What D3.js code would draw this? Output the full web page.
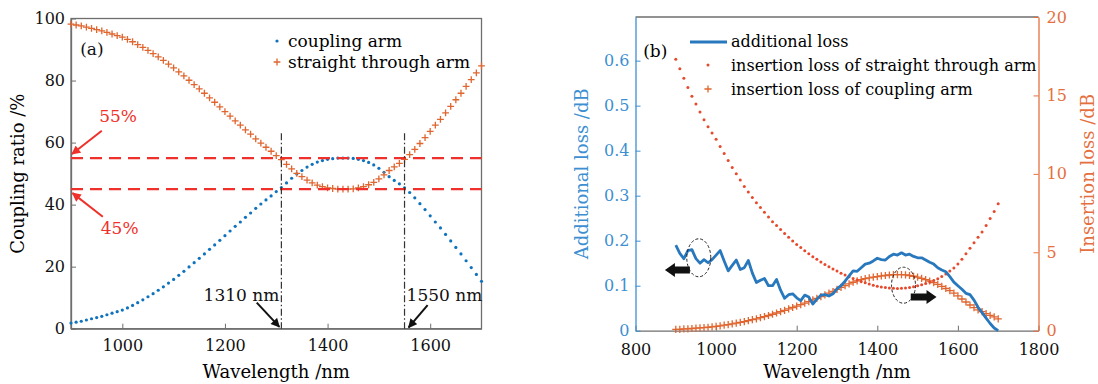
<!DOCTYPE html>
<html>
<head>
<meta charset="utf-8">
<script src="https://cdn.jsdelivr.net/npm/d3@7/dist/d3.min.js"></script>
<style>
  body { margin: 0; background: #fff; }
  text { font-family: "DejaVu Serif", serif; }
</style>
</head>
<body>
<svg id="chart" width="1098" height="384"></svg>
<script>
// wavelength grid of the simulation, nm
const wavelength = d3.range(900, 1701, 10);

// (a) coupling ratio, %
const couplingArm = [
  1.8, 2.1, 2.4, 2.8, 3.2, 3.6, 4.0, 4.5, 5.0, 5.5,
  6.0, 6.7, 7.5, 8.4, 9.3, 10.3, 11.3, 12.4, 13.5, 14.7,
  15.9, 17.2, 18.5, 19.9, 21.3, 22.7, 24.1, 25.6, 27.0, 28.5,
  30.0, 31.5, 33.0, 34.4, 35.9, 37.3, 38.8, 40.2, 41.5, 42.8,
  44.2, 45.5, 47.0, 48.5, 49.9, 51.0, 52.1, 53.0, 53.7, 54.2,
  54.6, 54.8, 55.0, 55.0, 55.0, 54.9, 54.6, 54.2, 53.6, 52.8,
  51.7, 50.4, 49.0, 47.8, 46.7, 45.4, 43.9, 42.2, 40.3, 38.4,
  36.4, 34.4, 32.5, 30.4, 28.3, 26.2, 24.1, 21.9, 19.7, 17.5,
  15.3];
const straightArm = [
  98.2, 97.9, 97.6, 97.2, 96.8, 96.4, 96.0, 95.5, 95.0, 94.5,
  94.0, 93.3, 92.5, 91.6, 90.7, 89.7, 88.7, 87.6, 86.5, 85.3,
  84.1, 82.8, 81.5, 80.1, 78.7, 77.3, 75.9, 74.4, 73.0, 71.5,
  70.0, 68.5, 67.0, 65.6, 64.1, 62.7, 61.2, 59.8, 58.5, 57.2,
  55.8, 54.5, 53.0, 51.5, 50.1, 49.0, 47.9, 47.0, 46.3, 45.8,
  45.4, 45.2, 45.0, 45.0, 45.0, 45.1, 45.4, 45.8, 46.4, 47.2,
  48.3, 49.6, 51.0, 52.2, 53.3, 54.6, 56.1, 57.8, 59.7, 61.6,
  63.6, 65.6, 67.5, 69.6, 71.7, 73.8, 75.9, 78.1, 80.3, 82.5,
  84.7];

// (b) losses, dB
const additionalLoss = [
  0.19, 0.172, 0.16, 0.178, 0.18, 0.16, 0.15, 0.158, 0.151, 0.158,
  0.168, 0.178, 0.155, 0.133, 0.145, 0.157, 0.136, 0.14, 0.156, 0.128,
  0.107, 0.112, 0.116, 0.1, 0.1, 0.114, 0.09, 0.072, 0.08, 0.082,
  0.073, 0.067, 0.079, 0.075, 0.059, 0.07, 0.079, 0.08, 0.077, 0.082,
  0.093, 0.1, 0.11, 0.122, 0.133, 0.132, 0.14, 0.148, 0.15, 0.155,
  0.161, 0.158, 0.157, 0.165, 0.17, 0.168, 0.173, 0.168, 0.17, 0.165,
  0.162, 0.162, 0.157, 0.152, 0.148, 0.14, 0.135, 0.131, 0.12, 0.108,
  0.1, 0.092, 0.083, 0.08, 0.068, 0.052, 0.04, 0.028, 0.016, 0.006,
  0.0];
const ilStraight = [
  17.3, 16.7, 16.1, 15.5, 14.95, 14.45, 13.95, 13.45, 13.0, 12.6,
  12.2, 11.75, 11.3, 10.85, 10.4, 10.0, 9.6, 9.2, 8.85, 8.5,
  8.15, 7.85, 7.55, 7.25, 6.95, 6.7, 6.45, 6.2, 5.95, 5.72,
  5.5, 5.3, 5.1, 4.9, 4.72, 4.55, 4.38, 4.22, 4.07, 3.93,
  3.8, 3.67, 3.55, 3.44, 3.33, 3.23, 3.14, 3.05, 2.97, 2.9,
  2.84, 2.79, 2.75, 2.72, 2.70, 2.69, 2.70, 2.72, 2.75, 2.80,
  2.86, 2.93, 3.01, 3.10, 3.2, 3.32, 3.46, 3.62, 3.8, 4.0,
  4.25, 4.55, 4.9, 5.25, 5.6, 5.95, 6.3, 6.7, 7.15, 7.6,
  8.1];
const ilCoupling = [
  0.08, 0.09, 0.11, 0.12, 0.14, 0.16, 0.18, 0.20, 0.22, 0.25,
  0.28, 0.31, 0.35, 0.39, 0.43, 0.48, 0.53, 0.58, 0.64, 0.70,
  0.76, 0.83, 0.90, 0.97, 1.05, 1.13, 1.21, 1.30, 1.39, 1.48,
  1.57, 1.66, 1.76, 1.86, 1.96, 2.06, 2.17, 2.28, 2.39, 2.50,
  2.63, 2.76, 2.88, 2.99, 3.09, 3.18, 3.26, 3.32, 3.37, 3.41,
  3.45, 3.49, 3.52, 3.55, 3.57, 3.58, 3.58, 3.56, 3.52, 3.47,
  3.41, 3.34, 3.26, 3.17, 3.07, 2.95, 2.82, 2.69, 2.55, 2.39,
  2.22, 2.02, 1.83, 1.64, 1.47, 1.33, 1.21, 1.09, 0.98, 0.88,
  0.76];

const xTicksA = [1000, 1200, 1400, 1600];
const yTicksA = [0, 20, 40, 60, 80, 100];
const xTicksB = [800, 1000, 1200, 1400, 1600, 1800];
const yTicksBL = [0, 0.1, 0.2, 0.3, 0.4, 0.5, 0.6];
const yTicksBR = [0, 5, 10, 15, 20];
const ratioLevels = [55, 45];
const markWavelengths = [1310, 1550];

const serif = '"DejaVu Serif", serif';
const blue = '#0f72bd';
const orange = '#e0652f';
const redDot = '#e6492c';
const axisGray = '#6e6e6e';
const svg = d3.select('#chart');

const defs = svg.append('defs');
const addHead = (id, color) => defs.append('marker')
  .attr('id', id)
  .attr('viewBox', '0 0 10 10')
  .attr('refX', 9).attr('refY', 5)
  .attr('markerWidth', 10).attr('markerHeight', 9)
  .attr('markerUnits', 'userSpaceOnUse')
  .attr('orient', 'auto')
  .append('path')
  .attr('d', 'M0,0L10,5L0,10Z')
  .attr('fill', color);
addHead('headRed', '#f0302a');
addHead('headBlack', '#111');

const styleAxis = (g, lineColor, textColor) => {
  g.attr('font-family', serif).attr('font-size', 16);
  g.select('.domain').attr('stroke', lineColor).attr('stroke-width', 1.3);
  g.selectAll('.tick line').attr('stroke', lineColor).attr('stroke-width', 1);
  g.selectAll('.tick text').attr('fill', textColor);
};
const plusPath = (s) => `M${-s},0H${s}M0,${-s}V${s}`;
const intFmt = d3.format('d');

// ================= panel (a) =================
const xA = d3.scaleLinear().domain([900, 1700]).range([71, 481.5]);
const yA = d3.scaleLinear().domain([0, 100]).range([328.7, 18.5]);
const gA = svg.append('g');

gA.append('rect')
  .attr('x', xA.range()[0]).attr('y', yA.range()[1])
  .attr('width', xA.range()[1] - xA.range()[0])
  .attr('height', yA.range()[0] - yA.range()[1])
  .attr('fill', 'none').attr('stroke', axisGray).attr('stroke-width', 1.3);

gA.append('g')
  .attr('transform', `translate(0,${yA(0)})`)
  .call(d3.axisBottom(xA).tickValues(xTicksA).tickFormat(intFmt)
    .tickSize(-5).tickSizeOuter(0).tickPadding(11))
  .call((g) => styleAxis(g, axisGray, '#111'));
gA.append('g')
  .attr('transform', `translate(${xA(900)},0)`)
  .call(d3.axisLeft(yA).tickValues(yTicksA).tickFormat(intFmt)
    .tickSize(-5).tickSizeOuter(0).tickPadding(6))
  .call((g) => styleAxis(g, axisGray, '#111'));

const ptsA = wavelength.map((w, i) => ({ w, c: couplingArm[i], s: straightArm[i] }));

gA.append('g').selectAll('circle')
  .data(ptsA)
  .join('circle')
  .attr('cx', (d) => xA(d.w))
  .attr('cy', (d) => yA(d.c))
  .attr('r', 1.6)
  .attr('fill', blue);

gA.append('g').selectAll('path')
  .data(ptsA)
  .join('path')
  .attr('transform', (d) => `translate(${xA(d.w)},${yA(d.s)})`)
  .attr('d', plusPath(3.4))
  .attr('stroke', orange)
  .attr('stroke-width', 1.3);

// 55 % / 45 % reference lines
gA.append('g').selectAll('line')
  .data(ratioLevels)
  .join('line')
  .attr('x1', xA(900)).attr('x2', xA(1700))
  .attr('y1', (d) => yA(d)).attr('y2', (d) => yA(d))
  .attr('stroke', '#f0302a')
  .attr('stroke-width', 2.4)
  .attr('stroke-dasharray', '12,7');

// 1310 / 1550 nm markers
gA.append('g').selectAll('line')
  .data(markWavelengths)
  .join('line')
  .attr('x1', (d) => xA(d)).attr('x2', (d) => xA(d))
  .attr('y1', yA(63)).attr('y2', yA(0))
  .attr('stroke', '#333')
  .attr('stroke-width', 1.2)
  .attr('stroke-dasharray', '7,2.5,1.5,2.5');

const arrowA = (w0, v0, w1, v1, color, head) => gA.append('line')
  .attr('x1', xA(w0)).attr('y1', yA(v0))
  .attr('x2', xA(w1)).attr('y2', yA(v1))
  .attr('stroke', color).attr('stroke-width', 2)
  .attr('marker-end', `url(#${head})`);

arrowA(960, 63.8, 902, 56.3, '#f0302a', 'headRed');
arrowA(962, 36.1, 903, 43.7, '#f0302a', 'headRed');
arrowA(1262, 8.4, 1306, 0.6, '#111', 'headBlack');
arrowA(1595, 7.6, 1558, 0.4, '#111', 'headBlack');

const textA = (w, v, str, color, anchor) => gA.append('text')
  .attr('x', xA(w)).attr('y', yA(v))
  .attr('dy', '0.35em')
  .attr('text-anchor', anchor || 'start')
  .attr('fill', color)
  .style('font-size', '17px')
  .text(str);

textA(955, 68.6, '55%', '#f0302a');
textA(958, 32.5, '45%', '#f0302a');
textA(1306, 11, '1310 nm', '#111', 'end');
textA(1554, 11, '1550 nm', '#111');
textA(918, 90, '(a)', '#111');

// legend (a)
const legA = gA.append('g');
legA.append('circle').attr('cx', 277).attr('cy', 41).attr('r', 1.6).attr('fill', blue);
legA.append('path').attr('transform', 'translate(277,62)').attr('d', plusPath(3.4))
  .attr('stroke', orange).attr('stroke-width', 1.3);
legA.append('text').attr('x', 288).attr('y', 41).attr('dy', '0.35em')
  .style('font-size', '17px').text('coupling arm');
legA.append('text').attr('x', 288).attr('y', 62).attr('dy', '0.35em')
  .style('font-size', '17px').text('straight through arm');

gA.append('text')
  .attr('x', (xA.range()[0] + xA.range()[1]) / 2).attr('y', 372)
  .attr('dy', '0.35em').attr('text-anchor', 'middle')
  .style('font-size', '18px').text('Wavelength /nm');
gA.append('text')
  .attr('transform', `translate(18,${(yA.range()[0] + yA.range()[1]) / 2}) rotate(-90)`)
  .attr('dy', '0.35em').attr('text-anchor', 'middle')
  .style('font-size', '18px').text('Coupling ratio /%');

// ================= panel (b) =================
const leftBlue = '#3d8fd1';
const rightOrange = '#e5703f';
const xB = d3.scaleLinear().domain([800, 1800]).range([635.5, 1038.5]);
const yBL = d3.scaleLinear().domain([0, 0.697]).range([330.7, 17]);
const yBR = d3.scaleLinear().domain([0, 20]).range([330.7, 17]);
const gB = svg.append('g');

gB.append('line')
  .attr('x1', xB(800)).attr('x2', xB(1800))
  .attr('y1', yBR(20)).attr('y2', yBR(20))
  .attr('stroke', axisGray).attr('stroke-width', 1.3);

gB.append('g')
  .attr('transform', `translate(0,${yBL(0)})`)
  .call(d3.axisBottom(xB).tickValues(xTicksB).tickFormat(intFmt)
    .tickSize(-5).tickSizeOuter(0).tickPadding(13))
  .call((g) => styleAxis(g, axisGray, '#111'));
gB.append('g')
  .attr('transform', `translate(${xB(800)},0)`)
  .call(d3.axisLeft(yBL).tickValues(yTicksBL).tickSize(-5).tickSizeOuter(0).tickPadding(6)
    .tickFormat((d) => (d === 0 ? '0' : d3.format('.1f')(d))))
  .call((g) => styleAxis(g, leftBlue, leftBlue));
gB.append('g')
  .attr('transform', `translate(${xB(1800)},0)`)
  .call(d3.axisRight(yBR).tickValues(yTicksBR).tickFormat(intFmt)
    .tickSize(-5).tickSizeOuter(0).tickPadding(8))
  .call((g) => styleAxis(g, rightOrange, rightOrange));

const ptsB = wavelength.map((w, i) => ({
  w, a: additionalLoss[i], st: ilStraight[i], cp: ilCoupling[i],
}));

gB.append('g').selectAll('path')
  .data(ptsB)
  .join('path')
  .attr('transform', (d) => `translate(${xB(d.w)},${yBR(d.cp)})`)
  .attr('d', plusPath(3.6))
  .attr('stroke', orange)
  .attr('stroke-width', 1.3);

gB.append('g').selectAll('circle')
  .data(ptsB)
  .join('circle')
  .attr('cx', (d) => xB(d.w))
  .attr('cy', (d) => yBR(d.st))
  .attr('r', 1.5)
  .attr('fill', redDot);

gB.append('path')
  .datum(ptsB)
  .attr('d', d3.line().x((d) => xB(d.w)).y((d) => yBL(d.a)))
  .attr('fill', 'none')
  .attr('stroke', '#2878bd')
  .attr('stroke-width', 2.8)
  .attr('stroke-linejoin', 'round');

// dashed ellipses and block arrows pointing to the matching axis
gB.append('ellipse')
  .attr('cx', xB(957)).attr('cy', yBL(0.162))
  .attr('rx', 12).attr('ry', 19)
  .attr('fill', 'none').attr('stroke', '#222').attr('stroke-width', 1)
  .attr('stroke-dasharray', '3,2');
gB.append('ellipse')
  .attr('cx', xB(1465)).attr('cy', yBR(2.9))
  .attr('rx', 12).attr('ry', 18)
  .attr('fill', 'none').attr('stroke', '#222').attr('stroke-width', 1)
  .attr('stroke-dasharray', '3,2');

const blockArrow = (xTail, xTip, y) => {
  const dir = Math.sign(xTip - xTail);
  const neck = xTip - dir * 10;
  const pts = [[xTail, y - 3.5], [neck, y - 3.5], [neck, y - 7], [xTip, y],
    [neck, y + 7], [neck, y + 3.5], [xTail, y + 3.5]];
  gB.append('polygon').attr('points', pts.map((p) => p.join(',')).join(' ')).attr('fill', '#111');
};
blockArrow(xB(935), xB(873), yBL(0.135));
blockArrow(xB(1483), xB(1547), yBR(2.15));

gB.append('text').attr('x', xB(819)).attr('y', yBL(0.622)).attr('dy', '0.35em')
  .style('font-size', '17px').text('(b)');

// legend (b)
const legB = gB.append('g');
legB.append('line').attr('x1', 690).attr('x2', 727).attr('y1', 42).attr('y2', 42)
  .attr('stroke', '#2878bd').attr('stroke-width', 2.8);
legB.append('circle').attr('cx', 708).attr('cy', 65).attr('r', 1.5).attr('fill', redDot);
legB.append('path').attr('transform', 'translate(708,89)').attr('d', plusPath(3.6))
  .attr('stroke', orange).attr('stroke-width', 1.3);
[['additional loss', 41], ['insertion loss of straight through arm', 65],
  ['insertion loss of coupling arm', 89]].forEach(([t, y]) => {
  legB.append('text').attr('x', 731).attr('y', y).attr('dy', '0.35em')
    .style('font-size', '16px').text(t);
});

gB.append('text')
  .attr('x', (xB.range()[0] + xB.range()[1]) / 2).attr('y', 372)
  .attr('dy', '0.35em').attr('text-anchor', 'middle')
  .style('font-size', '18px').text('Wavelength /nm');
gB.append('text')
  .attr('transform', `translate(582,${(yBL.range()[0] + yBL.range()[1]) / 2}) rotate(-90)`)
  .attr('dy', '0.35em').attr('text-anchor', 'middle').attr('fill', leftBlue)
  .style('font-size', '18px').text('Additional loss /dB');
gB.append('text')
  .attr('transform', `translate(1088,${(yBR.range()[0] + yBR.range()[1]) / 2}) rotate(-90)`)
  .attr('dy', '0.35em').attr('text-anchor', 'middle').attr('fill', rightOrange)
  .style('font-size', '18px').text('Insertion loss /dB');
</script>
</body>
</html>
